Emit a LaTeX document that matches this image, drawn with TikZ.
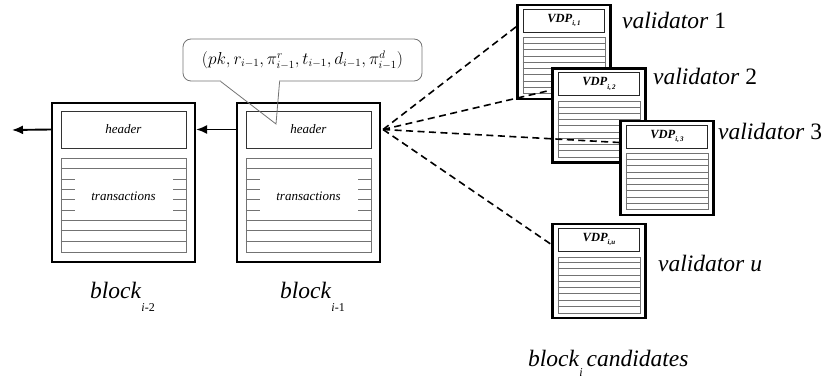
\documentclass[tikz,border=0pt]{standalone}
\usepackage{fontspec}
\setmainfont{Liberation Serif}
\usetikzlibrary{arrows.meta,calc}
\tikzset{
  outerbox/.style={draw=black, line width=2.1pt, minimum width=143pt, minimum height=159pt, inner sep=0pt},
  hdrbox/.style={draw=black!80, line width=0.9pt, minimum width=125pt, minimum height=37pt, inner sep=0pt, font=\fontsize{13}{15}\selectfont\itshape},
  txarea/.style={draw=black!55, line width=1pt, minimum width=125pt, minimum height=93pt, inner sep=0pt},
  txtext/.style={inner sep=0pt, font=\fontsize{13}{15}\selectfont\itshape},
  rowline/.style={draw=black!55, line width=1pt},
  vbox/.style={draw=black, line width=2.1pt, fill=white, minimum width=93pt, minimum height=94pt, inner sep=0pt},
  vhdr/.style={draw=black!85, line width=0.9pt, minimum width=81pt, minimum height=23pt, inner sep=0pt, font=\fontsize{12.5}{14}\selectfont\bfseries\itshape},
  vtx/.style={draw=black!55, line width=1pt, minimum width=82pt, minimum height=56pt, inner sep=0pt},
  chain/.style={line width=1.9pt, -{Latex[length=11pt,width=9pt]}},
  link/.style={line width=1.6pt, dash pattern=on 7pt off 4.5pt},
  calloutbox/.style={draw=black!55, line width=0.8pt, rounded corners=8pt, minimum width=239pt, minimum height=42pt, inner sep=0pt, font=\fontsize{16.3}{18}\selectfont},
  calloutline/.style={draw=black!55, line width=0.8pt},
  bigtext/.style={font=\fontsize{23.5}{26}\selectfont, inner sep=0pt, anchor=base west},
}
\newcommand\chainblock[3]{%
  \node[outerbox] (#1) at (#2,#3) {};
  \node[hdrbox] (#1h) at (#2,#3-53) {header};
  \node[txarea] (#1t) at (#2,#3+23) {};
  \foreach \k in {1,6,7,8} {\draw[rowline] ($(#1t.north west)+(0,\k*10.333)$) -- ($(#1t.north east)+(0,\k*10.333)$);}
  \foreach \k in {2,3,4,5} {%
    \draw[rowline] ($(#1t.north west)+(0,\k*10.333)$) -- +(14,0);
    \draw[rowline] ($(#1t.north east)+(0,\k*10.333)$) -- +(-14,0);}
  \node[txtext] (#1x) at ($(#1t.north)+(0,37.5)$) {transactions};
}
\newcommand\vdpbox[4]{%
  \node[vbox] (#1) at (#2,#3) {};
  \node[vhdr] (#1h) at (#2,#3-31.5) {VDP\raisebox{-3.5pt}{\fontsize{7}{8}\selectfont #4}};
  \node[vtx] (#1t) at (#2,#3+14) {};
  \foreach \k in {1,...,8} {\draw[rowline] ($(#1t.north west)+(0,\k*6.222)$) -- ($(#1t.north east)+(0,\k*6.222)$);}
}
\begin{document}
\begin{tikzpicture}[x=1pt,y=-1pt]
\useasboundingbox (0,0) rectangle (834,379);

% callout box (drawn first)
\node[calloutbox] (callout) at (302.5,60) {$(pk, r_{i-1}, \pi^r_{i-1}, t_{i-1}, d_{i-1}, \pi^d_{i-1})$};
\coordinate (pa) at ($(callout.south west)+(38,0)$);
\coordinate (pb) at ($(callout.south west)+(97,0)$);
\coordinate (tip) at (276,124);
\fill[white] ($(pa)+(0.6,-1)$) -- ($(pa)+(0.6,2)$) -- ($(pb)+(-0.6,2)$) -- ($(pb)+(-0.6,-1)$) -- cycle;

% chain blocks
\chainblock{b2}{123.5}{182.5}
\chainblock{b1}{308.5}{182.5}
\coordinate (chainend) at (12,130);
\draw[chain] (b1.west |- b1h.center) -- (b2.east |- b2h.center);
\draw[chain] (b2.west |- b2h.center) -- (chainend);

% validator blocks
\vdpbox{v1}{564}{52}{\textit{i},\,1}
\vdpbox{v2}{599}{115.5}{\textit{i},\,2}
\vdpbox{v3}{667}{168}{\textit{i},\,3}
\vdpbox{vu}{599}{271}{\textit{i},\textit{u}}

% dashed links
\coordinate (hub) at ($(b1.east |- b1h.center)+(2,0)$);
\draw[link] (hub) -- ($(v1.north west)!0.235!(v1.south west)$);
\draw[link] (hub) -- ($(v2.north west)!0.235!(v2.south west)$);
\draw[link] (hub) -- ($(v3.north west)!0.235!(v3.south west)$);
\draw[link] (hub) -- ($(vu.north west)!0.225!(vu.south west)$);

% callout pointer
\draw[calloutline] (pa) -- (tip) -- (pb);

% labels
\node[bigtext] (lv1) at (622,29) {\textit{validator} 1};
\node[bigtext] (lv2) at (653,85) {\textit{validator} 2};
\node[bigtext] (lv3) at (718,140) {\textit{validator} 3};
\node[bigtext] (lvu) at (658,271) {\textit{validator u}};
\node[bigtext] (lb2) at (90,298) {\textit{block}\raisebox{-13pt}{\fontsize{12}{12}\selectfont\textit{i}-2}};
\node[bigtext] (lb1) at (280,298) {\textit{block}\raisebox{-13pt}{\fontsize{12}{12}\selectfont\textit{i}-1}};
\node[bigtext] (lbc) at (528,366) {\textit{block}\raisebox{-10pt}{\fontsize{12}{12}\selectfont\textit{i}}\,\textit{candidates}};
\end{tikzpicture}
\end{document}
